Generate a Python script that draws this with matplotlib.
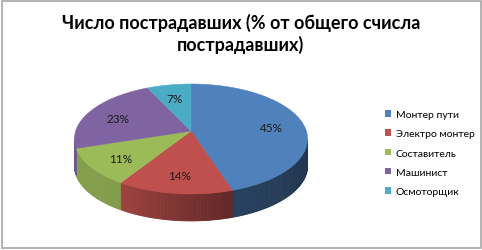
import numpy as np
import matplotlib.pyplot as plt
from matplotlib.patches import Polygon, Rectangle, Patch
from matplotlib.colors import to_rgb

plt.rcParams['font.family'] = ['Lato', 'DejaVu Sans']

TITLE = "Число пострадавших (% от общего счисла\nпострадавших)"
categories = ["Монтер пути", "Электро монтер", "Составитель", "Машинист", "Осмоторщик"]
shares = [45, 14, 11, 23, 7]
colors = ["#4F81BD", "#C0504D", "#9BBB59", "#8064A2", "#4BACC6"]

# pie geometry in pixels (figure is 482x251), simple perspective tilt
CX, VY = 191, 132        # apex of the wedges
SX, SY = 115.3, 53.8     # horizontal / vertical radius before perspective
K = 0.145                # perspective strength (front bigger than back)
DEPTH = 27

# side lighting: brighter on the front-left, dark on the right
SHADE_ANG = [-180, -122, -72, 0]
SHADE_F = [0.88, 0.83, 0.50, 0.40]


def proj(r, theta):
    t = np.radians(theta)
    x, y = r * np.cos(t), r * np.sin(t)
    d = 1 + K * y
    return CX + SX * x / d, VY - SY * y / d


fig = plt.figure(figsize=(4.82, 2.51), dpi=100)
ax = fig.add_axes([0, 0, 1, 1])
ax.set_xlim(0, 482)
ax.set_ylim(251, 0)
ax.axis("off")

total = sum(shares)
bounds = 90 - 360 * np.cumsum([0] + shares) / total   # clockwise from 12 o'clock
edge = np.degrees(np.arcsin(K))                         # silhouette angle

# side faces
for i, c in enumerate(colors):
    a0, a1 = bounds[i + 1], bounds[i]                  # a0 < a1
    for shift in (0, 360, -360):
        lo, hi = max(a0 + shift, -180 + edge), min(a1 + shift, -edge)
        if hi <= lo:
            continue
        th = np.linspace(lo, hi, max(int(hi - lo), 2) + 1)
        base = np.array(to_rgb(c))
        for t0, t1 in zip(th[:-1], th[1:]):
            f = np.interp((t0 + t1) / 2, SHADE_ANG, SHADE_F)
            x0, y0 = proj(1, t0)
            x1, y1 = proj(1, t1)
            ax.add_patch(Polygon([(x0, y0), (x1, y1), (x1, y1 + DEPTH), (x0, y0 + DEPTH)],
                                 closed=True, facecolor=base * f, edgecolor=base * f,
                                 linewidth=0.6, zorder=2))

# top faces
for i, c in enumerate(colors):
    a0, a1 = bounds[i + 1], bounds[i]
    th = np.linspace(a0, a1, 200)
    pts = [(CX, VY)] + [proj(1, t) for t in th]
    ax.add_patch(Polygon(pts, closed=True, facecolor=c, edgecolor=c,
                         linewidth=0.4, zorder=3))

# percentage labels
for i, v in enumerate(shares):
    mid = (bounds[i] + bounds[i + 1]) / 2
    lx, ly = proj(0.72, mid)
    ax.text(lx, ly + 2, f"{v}%", ha="center", va="center", fontsize=8.5,
            color="#1a1a1a", zorder=4)

ax.text(241, 34, TITLE, ha="center", va="center", fontsize=13,
        fontweight="bold", linespacing=1.25, color="black")

handles = [Patch(facecolor=c, edgecolor="none") for c in colors]
leg = ax.legend(handles, categories, loc="upper left",
                bbox_to_anchor=(380 / 482, 1 - 106 / 251), frameon=False,
                fontsize=7.5, handlelength=0.6, handleheight=0.6,
                handletextpad=0.4, labelspacing=0.98, borderpad=0)

ax.add_patch(Rectangle((1.5, 1.5), 479, 247, fill=False, edgecolor="#a6a6a6",
                       linewidth=1.2, zorder=5))

fig.savefig("out.png", dpi=100)
